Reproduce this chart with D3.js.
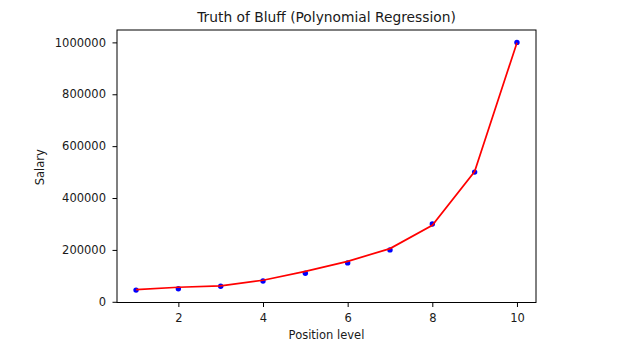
<!DOCTYPE html>
<html><head><meta charset="utf-8">
<script src="https://cdn.jsdelivr.net/npm/d3@7"></script>
<style>body{margin:0;background:#fff;}svg{display:block;font-family:"DejaVu Sans",sans-serif;}</style>
</head><body>
<svg id="c" width="621" height="349"></svg>
<script>
const levels = [1,2,3,4,5,6,7,8,9,10];
const salaries = [45000,50000,60000,80000,110000,150000,200000,300000,500000,1000000];
const predicted = [47000,56000,61000,83000,117000,156000,205000,295000,502000,999000];
const xTicks = [2,4,6,8,10];
const yTicks = [0,200000,400000,600000,800000,1000000];

const svg = d3.select("#c");
const L=117, R=536, T=30, B=302.5;
const x = d3.scaleLinear().domain([0.55,10.45]).range([L,R]);
const y = d3.scaleLinear().domain([-2750,1047750]).range([B,T]);

const pts = levels.map((d,i)=>({x:d,s:salaries[i],p:predicted[i]}));

svg.append("g").selectAll("circle").data(pts).enter().append("circle")
  .attr("cx",d=>x(d.x)).attr("cy",d=>y(d.s)).attr("r",2.7).attr("fill","#0000ff");

svg.append("path").datum(pts)
  .attr("d",d3.line().x(d=>x(d.x)).y(d=>y(d.p)))
  .attr("fill","none").attr("stroke","#ff0000").attr("stroke-width",1.7);

const xa = svg.append("g").attr("transform",`translate(0,${B})`)
  .call(d3.axisBottom(x).tickValues(xTicks).tickSize(4.5).tickPadding(6.5).tickFormat(d3.format("d")));
const ya = svg.append("g").attr("transform",`translate(${L},0)`)
  .call(d3.axisLeft(y).tickValues(yTicks).tickSize(4.5).tickPadding(6.5).tickFormat(d3.format("d")));
[xa,ya].forEach(a=>{
  a.select(".domain").remove();
  a.selectAll(".tick line").attr("stroke","#000").attr("stroke-width",1);
  a.selectAll(".tick text").attr("font-size",11.5).attr("fill","#1a1a1a").attr("font-family","DejaVu Sans");
});

svg.append("rect").attr("x",L).attr("y",T).attr("width",R-L).attr("height",B-T)
  .attr("fill","none").attr("stroke","#000").attr("stroke-width",1);

svg.append("text").attr("x",(L+R)/2).attr("y",22).attr("text-anchor","middle")
  .attr("font-size",13.8).attr("fill","#1a1a1a").text("Truth of Bluff (Polynomial Regression)");
svg.append("text").attr("x",(L+R)/2).attr("y",339).attr("text-anchor","middle")
  .attr("font-size",11.5).attr("fill","#1a1a1a").text("Position level");
svg.append("text").attr("transform",`translate(44,${(T+B)/2+1}) rotate(-90)`).attr("text-anchor","middle")
  .attr("font-size",11.5).attr("fill","#1a1a1a").text("Salary");
</script>
</body></html>
